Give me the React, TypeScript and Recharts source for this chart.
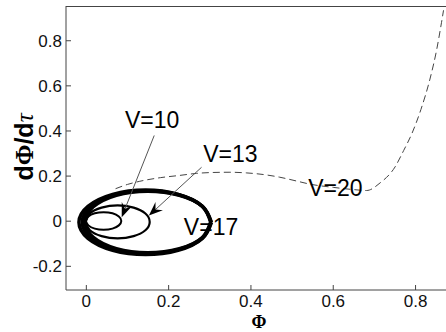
import { LineChart, Line, XAxis, YAxis, ReferenceLine, ReferenceDot } from "recharts";

// phase-plane orbits, [phi, dphi/dtau]
const orbitV10: [number, number][] = [
  [-0.001, 0.001], [0.005, 0.0205], [0.0205, 0.035], [0.042, 0.04], [0.0635, 0.035],
  [0.079, 0.0205], [0.085, 0.001], [0.079, -0.0185], [0.0635, -0.033], [0.042, -0.038],
  [0.0205, -0.033], [0.005, -0.0185], [-0.001, 0.001],
];
const orbitV13: [number, number][] = [
  [-0.002, -0.003], [0.0085, 0.034], [0.037, 0.06], [0.076, 0.07], [0.115, 0.06],
  [0.1435, 0.034], [0.154, -0.003], [0.1435, -0.04], [0.115, -0.066], [0.076, -0.076],
  [0.037, -0.066], [0.0085, -0.04], [-0.002, -0.003],
];
// V=17 drifts a little each turn, so a few passes
const orbitV17a: [number, number][] = [
  [0.304, -0.005], [0.282, 0.066], [0.223, 0.119], [0.144, 0.138], [0.064, 0.119],
  [0.004, 0.066], [-0.018, -0.005], [0.004, -0.076], [0.064, -0.129], [0.144, -0.148],
  [0.223, -0.129], [0.282, -0.076], [0.304, -0.005],
];
const orbitV17b: [number, number][] = [
  [0.303, -0.004], [0.282, 0.066], [0.225, 0.117], [0.147, 0.135], [0.069, 0.117],
  [0.011, 0.065], [-0.01, -0.004], [0.011, -0.074], [0.069, -0.125], [0.147, -0.144],
  [0.225, -0.125], [0.282, -0.074], [0.303, -0.004],
];
const orbitV17c: [number, number][] = [
  [0.302, -0.004], [0.282, 0.065], [0.226, 0.115], [0.149, 0.133], [0.073, 0.115],
  [0.017, 0.064], [-0.003, -0.004], [0.017, -0.072], [0.073, -0.122], [0.149, -0.14],
  [0.226, -0.122], [0.282, -0.072], [0.302, -0.004],
];
const orbitV20: [number, number][] = [
  [0.071, 0.144], [0.1, 0.163], [0.13, 0.177], [0.18, 0.193], [0.227, 0.203],
  [0.268, 0.212], [0.308, 0.216], [0.349, 0.217], [0.39, 0.214], [0.43, 0.207],
  [0.47, 0.195], [0.511, 0.178], [0.544, 0.164], [0.6, 0.15], [0.65, 0.14],
  [0.681, 0.136], [0.714, 0.17], [0.75, 0.24], [0.771, 0.313], [0.791, 0.388],
  [0.813, 0.495], [0.835, 0.63], [0.851, 0.757], [0.863, 0.88], [0.868, 0.935],
];

const xTicks = [0, 0.2, 0.4, 0.6, 0.8];
const yTicks = [-0.2, 0, 0.2, 0.4, 0.6, 0.8];

// curve labels: text, anchor phi, anchor dphi
const curveLabels: [string, number, number][] = [
  ["V=10", 0.094, 0.411],
  ["V=13", 0.284, 0.262],
  ["V=20", 0.539, 0.111],
  ["V=17", 0.237, -0.063],
];
// pointer arrows: from (phi, dphi) to (phi, dphi)
const arrows: [number, number, number, number][] = [
  [0.165, 0.38, 0.086, 0.018],
  [0.28, 0.239, 0.152, 0.025],
];

const toPts = (arr: [number, number][]) => arr.map(([x, y]) => ({ x, y }));

const W = 446;
const H = 332;
const PLOT_LEFT = 66;
const PLOT_TOP = 6;
const PLOT_BOTTOM = 290;
const AXIS = "#444";
const FONT = "'Liberation Sans', Arial, sans-serif";
const SERIF = "'Liberation Serif', serif";

function BottomTick({ x, payload }: any) {
  return (
    <g>
      <line x1={x} x2={x} y1={PLOT_BOTTOM} y2={PLOT_BOTTOM - 5} stroke={AXIS} />
      <text x={x} y={PLOT_BOTTOM + 17} textAnchor="middle" fontSize={17} fontFamily={FONT} fill="#111">
        {String(payload.value)}
      </text>
    </g>
  );
}

function TopTick({ x }: any) {
  return <line x1={x} x2={x} y1={PLOT_TOP} y2={PLOT_TOP + 5} stroke={AXIS} />;
}

function LeftTick({ y, payload }: any) {
  return (
    <g>
      <line x1={PLOT_LEFT} x2={PLOT_LEFT + 5} y1={y} y2={y} stroke={AXIS} />
      <text x={PLOT_LEFT - 4} y={y + 6} textAnchor="end" fontSize={17} fontFamily={FONT} fill="#111">
        {String(payload.value)}
      </text>
    </g>
  );
}

function Arrow({ x1, y1, x2, y2 }: any) {
  const dx = x2 - x1;
  const dy = y2 - y1;
  const len = Math.hypot(dx, dy) || 1;
  const ux = dx / len;
  const uy = dy / len;
  const bx = x2 - ux * 14;
  const by = y2 - uy * 14;
  const nx = x2 - ux * 9;
  const ny = y2 - uy * 9;
  const head = `${x2},${y2} ${bx - uy * 5.5},${by + ux * 5.5} ${nx},${ny} ${bx + uy * 5.5},${by - ux * 5.5}`;
  return (
    <g>
      <line x1={x1} y1={y1} x2={nx} y2={ny} stroke="#555" strokeWidth={1} />
      <polygon points={head} fill="#000" />
    </g>
  );
}

const loop = (pts: [number, number][], width: number) => (
  <Line data={toPts(pts)} dataKey="y" type="natural" stroke="#000" strokeWidth={width} dot={false} isAnimationActive={false} />
);

export default function App() {
  return (
    <div style={{ position: "absolute", left: 0, top: 0, width: W, height: H, background: "#fff" }}>
      <LineChart width={W} height={H} margin={{ top: PLOT_TOP, right: 0, bottom: 0, left: 0 }}>
        <XAxis
          type="number"
          dataKey="x"
          domain={[-0.0494, 0.874]}
          allowDataOverflow
          ticks={xTicks}
          tick={<BottomTick />}
          tickLine={false}
          height={H - PLOT_BOTTOM}
          stroke={AXIS}
        />
        <XAxis
          xAxisId="top"
          orientation="top"
          type="number"
          dataKey="x"
          domain={[-0.0494, 0.874]}
          allowDataOverflow
          ticks={xTicks}
          tick={<TopTick />}
          tickLine={false}
          height={0}
          stroke={AXIS}
        />
        <YAxis
          type="number"
          dataKey="y"
          domain={[-0.305, 0.954]}
          allowDataOverflow
          ticks={yTicks}
          tick={<LeftTick />}
          tickLine={false}
          width={PLOT_LEFT}
          stroke={AXIS}
        />

        {loop(orbitV17a, 3.5)}
        {loop(orbitV17b, 3.5)}
        {loop(orbitV17c, 3.5)}
        {loop(orbitV13, 2.2)}
        {loop(orbitV10, 2)}
        <Line data={toPts(orbitV20)} dataKey="y" type="monotone" stroke="#444" strokeWidth={1} strokeDasharray="7 4" dot={false} isAnimationActive={false} />

        {arrows.map(([ax, ay, bx, by], i) => (
          <ReferenceLine key={`arr-${i}`} segment={[{ x: ax, y: ay }, { x: bx, y: by }]} shape={(p: any) => <Arrow {...p} />} />
        ))}
        {curveLabels.map(([txt, lx, ly]) => (
          <ReferenceDot
            key={txt}
            x={lx}
            y={ly}
            shape={(p: any) => (
              <text x={p.cx} y={p.cy} fontSize={23} fontFamily={FONT} fill="#000">
                {txt}
              </text>
            )}
          />
        ))}
      </LineChart>

      {/* frame top edge and axis titles */}
      <svg width={W} height={H} style={{ position: "absolute", left: 0, top: 0, pointerEvents: "none" }}>
        <line x1={PLOT_LEFT} x2={W} y1={PLOT_TOP + 0.5} y2={PLOT_TOP + 0.5} stroke={AXIS} />
        <text x={259} y={327.5} textAnchor="middle" fontSize={18} fontWeight="bold" fontFamily={SERIF} fill="#000">
          Φ
        </text>
        <text
          transform="translate(33,147) rotate(-90)"
          textAnchor="middle"
          fontSize={25}
          fontWeight="bold"
          fontFamily={FONT}
          fill="#000"
        >
          d<tspan fontFamily={SERIF}>Φ</tspan>/d
          <tspan fontFamily={SERIF} fontStyle="italic" fontWeight="normal">τ</tspan>
        </text>
      </svg>
    </div>
  );
}
